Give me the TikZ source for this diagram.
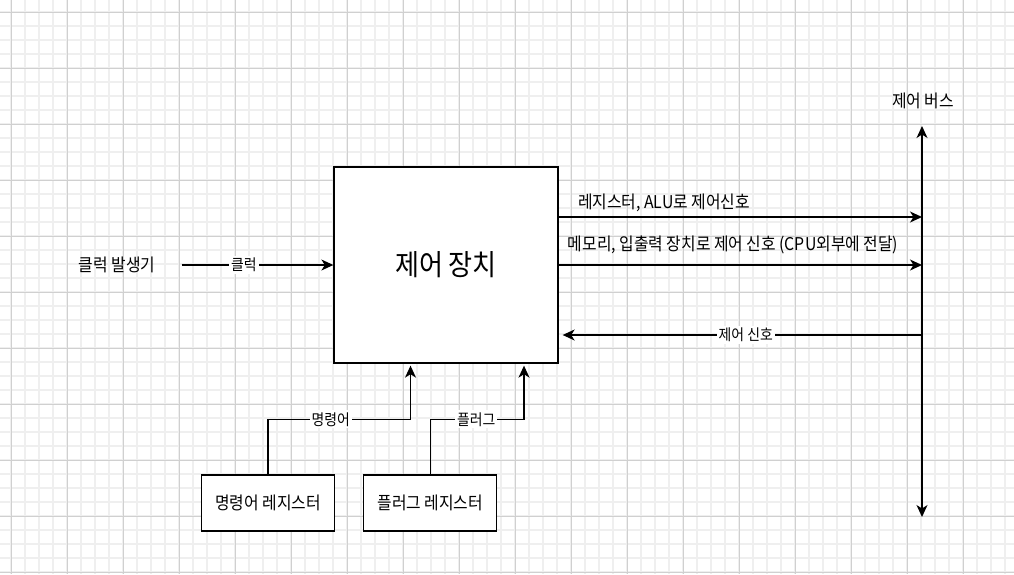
\documentclass[tikz,border=0pt]{standalone}
\usepackage{fontspec}
\setmainfont[FakeStretch=0.9]{Noto Sans CJK KR}
\usepackage{tikz}
\usetikzlibrary{arrows.meta,positioning}
\definecolor{gridminor}{HTML}{EFEFEF}
\definecolor{gridmajor}{HTML}{D0D0D0}

\begin{document}
\begin{tikzpicture}[x=1pt,y=-1pt,->,>={Stealth[length=12pt,width=11pt,inset=3.5pt]},line width=1.3pt,
  box/.style={draw,fill=white,inner sep=0pt},
  txt/.style={font=\fontsize{17.6}{21}\selectfont},
  lbl/.style={font=\fontsize{15.4}{18}\selectfont,fill=white,inner sep=2pt}]
  \useasboundingbox (0,0) rectangle (1014,574);
  % grid
  \foreach \x in {11,25,...,1014} \draw[-,gridminor,line width=1.2pt] (\x,0) -- (\x,574);
  \foreach \y in {12,26,...,574} \draw[-,gridminor,line width=1.2pt] (0,\y) -- (1014,\y);
  \foreach \x in {11,67,...,1014} \draw[-,gridmajor,line width=0.8pt] (\x,0) -- (\x,574);
  \foreach \y in {12,68,...,574} \draw[-,gridmajor,line width=0.8pt] (0,\y) -- (1014,\y);

  \node[box,minimum width=224pt,minimum height=196pt,font=\fontsize{29}{34}\selectfont] (cu) at (446,265) {제어 장치};
  \node[box,txt,minimum width=133pt,minimum height=56pt] (ir) at (268,503) {명령어 레지스터};
  \node[box,txt,minimum width=133pt,minimum height=56pt] (fr) [right=28pt of ir] {플러그 레지스터};
  \node[txt,minimum width=128pt] (clk) at (117,265) {클럭 발생기};
  \node[txt] (busname) at (923,101) {제어 버스};
  \coordinate (bustop) at (922,126);
  \coordinate (busbot) at (922,517);
  \coordinate (b1) at (922,217);
  \coordinate (b2) at (922,265);
  \coordinate (b3) at (922,335);

  \draw[<->] (bustop) -- (busbot);
  \draw (cu.east |- b1) -- node[txt,pos=.29,yshift=14pt] {레지스터, ALU로 제어신호} (b1);
  \draw (cu.east) -- node[txt,pos=.48,yshift=20pt] {메모리, 입출력 장치로 제어 신호 (CPU외부에 전달)} (b2);
  \draw[shorten >=4pt] (b3) -- node[lbl,pos=.485] {제어 신호} (cu.east |- b3);
  \draw (clk) -- node[lbl,pos=.41] {클럭} (cu);
  \draw[shorten >=2pt] (ir.north) -- ++(0,-55) -| node[lbl,pos=.22] {명령어} ([xshift=-35.5pt]cu.south);
  \draw[shorten >=2pt] (fr.north) -- ++(0,-55) -| node[lbl,pos=.245] {플러그} ([xshift=78pt]cu.south);
\end{tikzpicture}
\end{document}
